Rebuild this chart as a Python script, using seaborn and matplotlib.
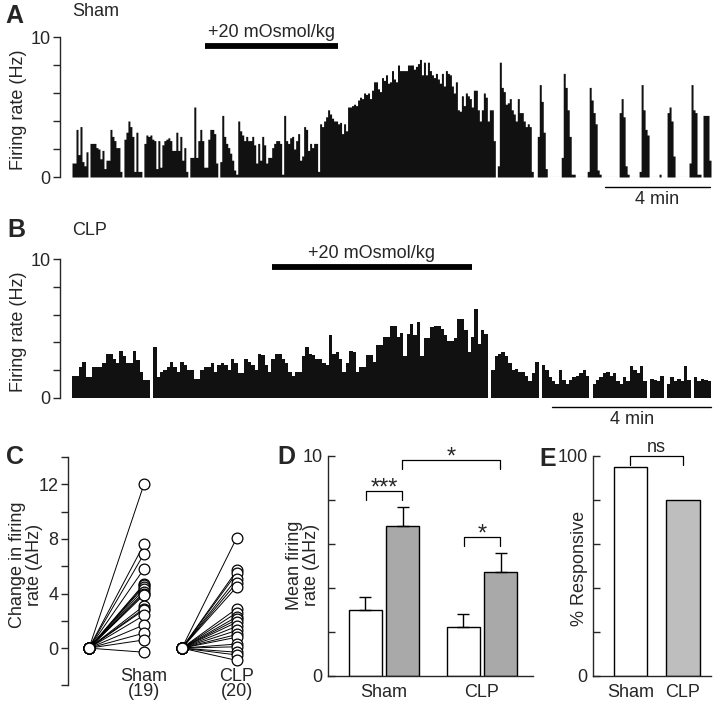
import numpy as np
import pandas as pd
import seaborn as sns
import matplotlib.pyplot as plt

sns.set_style('ticks')
plt.rcParams['font.family'] = ['Liberation Sans', 'DejaVu Sans']
plt.rcParams['font.size'] = 13

# ---- data ----
# A: Sham neuron, firing rate per bin (Hz)
sham_rate = [
    1.0, 1.0, 3.4, 1.6, 3.6, 1.1, 0.8, 1.8, 0,
    2.4, 2.4, 2.4, 2.1, 2.0, 1.3, 1.9, 0.6, 1.2, 1.2, 3.4, 2.9, 2.6, 2.1, 2.1, 0.4, 0,
    2.7, 3.2, 4.0, 3.6, 2.9, 0.4, 3.2, 0.4, 0.4, 0,
    2.4, 3.0, 2.9, 3.0, 2.7, 2.6, 0.6, 2.6, 0.7,
    2.3, 2.6, 2.7, 2.8, 2.6, 1.9, 1.9, 3.2, 1.9, 2.9, 1.2, 2.1, 0.4, 0,
    1.4, 1.4, 5.0, 1.4, 2.6, 3.4, 2.6, 0.7, 0.7, 2.7, 3.4, 3.4, 3.1, 1.0, 0,
    1.1, 4.4, 2.9, 2.4, 2.1, 1.7, 1.2, 0.5, 0.2,
    4.0, 3.3, 3.0, 2.6, 2.9, 2.6, 2.6, 2.9, 2.3, 1.0, 2.4, 1.2, 2.9, 2.3, 1.0, 1.4,
    1.4, 2.1, 2.4, 2.6, 2.6, 2.4, 0.2,
    4.4, 2.6, 2.4, 2.8, 2.9, 2.0, 2.6, 3.1, 1.2, 1.5, 3.6, 3.4, 1.9, 2.4, 2.1, 2.4, 2.4, 0.4,
    3.8, 3.6, 4.0, 4.3, 4.8, 4.5, 4.2, 4.0, 4.0, 3.8,
    3.9, 3.1, 3.8, 3.3, 5.0, 5.0, 5.1, 5.2, 5.1, 5.5,
    5.7, 5.6, 6.0, 5.9, 6.0, 5.6, 6.2, 6.8, 6.8, 6.3,
    6.1, 7.1, 6.9, 7.3, 6.7, 6.8, 7.6, 7.0, 6.8, 8.0,
    7.6, 7.6, 7.6, 7.6, 8.0, 8.0, 8.0, 7.7, 7.9, 8.1,
    8.4, 7.3, 8.2, 7.3, 8.2, 7.6, 7.3, 7.1, 7.4, 7.0,
    6.7, 7.4, 6.5, 7.6, 7.4, 7.3, 6.5, 6.0, 6.8, 4.8,
    4.7, 5.8, 5.1, 6.0, 5.8, 5.6, 5.0, 6.2, 6.2, 4.8,
    4.0, 4.8, 6.0, 5.7, 4.0, 4.8, 4.8, 2.6,
    0, 0.8, 8.2, 6.4, 6.1, 5.2, 5.3, 5.6, 4.8, 4.5, 4.0, 5.6, 4.6, 4.6, 4.0, 3.6, 3.8, 3.6, 0.4,
    0, 0, 2.9, 6.6, 5.4, 3.2, 0.6,
    0, 0, 0, 0, 0, 0, 0,
    1.4, 7.4, 6.4, 4.8, 2.9, 0.2, 0.2,
    0, 0, 0, 0, 0, 0,
    0.4, 6.4, 5.5, 4.6, 3.8, 0.5, 0.2,
    0, 0, 0, 0, 0, 0, 0, 0, 0,
    4.6, 5.6, 4.3, 0.8, 0.2,
    0, 0, 0, 0, 0,
    0.4, 6.6, 4.8, 3.4, 3.0,
    0, 0, 0, 0, 0,
    0.2, 0, 0, 0,
    4.6, 5.0, 4.0, 1.5,
    0, 0, 0, 0, 0, 0, 0,
    1.0, 6.6, 4.8, 4.6, 0.2, 0.2, 0,
    4.4, 4.4, 4.4, 1.2,
]

# B: CLP neuron, firing rate per bin (Hz)
clp_rate = [
    1.6, 1.6, 2.2, 2.6, 1.5, 1.5, 2.2, 2.2, 2.2, 2.5,
    3.2, 3.2, 2.8, 2.5, 3.4, 3.0, 2.5, 2.5, 3.4, 2.7,
    1.9, 1.3, 1.3, 0, 3.7, 1.5, 1.9, 2.0, 2.2, 2.6,
    2.2, 1.9, 2.6, 2.4, 2.0, 2.0, 1.4, 1.4, 2.0, 2.2,
    2.2, 2.5, 1.9, 2.4, 2.5, 2.4, 2.0, 2.8, 2.5, 1.8,
    1.8, 2.8, 2.6, 2.4, 2.0, 3.2, 3.1, 2.4, 1.9, 2.8,
    3.2, 3.2, 2.8, 2.5, 1.9, 1.6, 1.9, 1.9, 3.0, 3.7,
    3.2, 3.1, 2.8, 2.8, 2.5, 2.4, 4.5, 3.2, 3.3, 2.8,
    1.9, 2.5, 3.4, 3.3,
    1.9, 2.2, 2.2, 3.1, 3.1, 2.6, 3.8, 3.8, 4.4, 4.4,
    5.2, 5.2, 4.4, 4.7, 3.0, 4.6, 5.3, 4.5, 5.5, 3.0,
    4.3, 4.3, 5.1, 5.2, 5.2, 5.0, 4.5, 4.1, 4.1, 4.3,
    5.7, 5.7, 4.9, 3.3, 4.4, 6.4, 3.9, 4.9, 4.6, 0,
    2.0, 3.0, 3.2, 3.3, 3.0, 2.5, 2.0, 2.1, 1.9, 1.9,
    1.6, 1.2, 1.8, 2.6, 0, 2.4, 2.0, 1.5, 1.2, 1.0,
    2.0, 1.3, 1.0, 1.3, 1.5, 1.6, 1.8, 2.0, 1.6, 0,
    1.0, 1.3, 1.5, 1.8, 1.9, 1.6, 1.8, 1.2, 1.0, 1.5,
    1.2, 2.3, 2.0, 1.8, 2.3, 1.2, 0, 1.4, 1.3, 1.2,
    1.6, 0, 1.0, 1.5, 1.2, 1.4, 1.2, 2.3, 1.3, 0,
    1.5, 1.2, 1.4, 1.3, 1.2,
]

# C: change in firing rate per neuron (dHz)
sham_change = [12.0, 7.6, 6.9, 5.8, 4.7, 4.6, 4.5, 4.3, 4.1, 4.0,
               3.9, 3.1, 2.9, 2.8, 2.4, 1.7, 1.1, 0.6, -0.3]
clp_change = [8.1, 5.7, 5.5, 5.1, 4.8, 4.5, 2.9, 2.6, 2.3, 2.1,
              1.9, 1.6, 1.3, 1.0, 0.8, 0.3, 0.1, -0.3, -0.5, -0.9]
group_n = ['(19)', '(20)']

# D: mean firing rate
groups = ['Sham', 'CLP']
conds = ['basal', 'hyper']
mean_basal = [3.0, 2.25]
sem_basal = [0.6, 0.55]
mean_hyper = [6.8, 4.75]
sem_hyper = [0.9, 0.85]

# E: % responsive
pct_resp = [95, 80]

W, H = 720, 706
fig = plt.figure(figsize=(W / 100, H / 100), dpi=100)


def rect(x0, y_bottom, w, h):
    return [x0 / W, 1 - y_bottom / H, w / W, h / H]


def ftext(x, y, s, **kw):
    fig.text(x / W, 1 - y / H, s, **kw)


def rate_panel(ax, rates, stim, scale):
    n = len(rates)
    sns.histplot(x=np.arange(n) + 0.5, weights=rates, bins=n, binrange=(0, n),
                 element='step', fill=True, color='#111111', alpha=1, lw=0, ax=ax)
    ax.plot([0, n], [0, 0], color='0.6', lw=0.8, zorder=0)
    ax.set_xlim(-n * 12 / 639, n)
    ax.set_ylim(0, 10)
    sns.despine(ax=ax, bottom=True)
    ax.set_xticks([])
    ax.set_yticks([0, 2, 4, 6, 8, 10], ['0', '', '', '', '', '10'])
    ax.tick_params(axis='y', direction='out', length=5, width=1, pad=2, labelsize=13)
    ax.set_ylabel('')
    # stimulus bar
    x0, x1, yb, tpos = stim
    ax.plot([x0, x1], [yb, yb], color='k', lw=4.2, transform=ax.transAxes,
            clip_on=False, solid_capstyle='butt')
    ax.text(tpos[0], tpos[1], '+20 mOsmol/kg', transform=ax.transAxes,
            ha='center', va='center', fontsize=13)
    # time scale bar
    s0, s1, sy, ty = scale
    ax.plot([s0, s1], [sy, sy], color='k', lw=1, transform=ax.transAxes, clip_on=False)
    ax.text((s0 + s1) / 2, ty, '4 min', transform=ax.transAxes, ha='center',
            va='center', fontsize=13)


axa = fig.add_axes(rect(60, 177, 651, 140))
rate_panel(axa, sham_rate, (0.223, 0.427, 0.936, (0.325, 1.03)),
           (0.837, 0.998, -0.071, -0.164))
axb = fig.add_axes(rect(60, 398, 651, 139))
rate_panel(axb, clp_rate, (0.326, 0.633, 0.942, (0.479, 1.036)),
           (0.756, 1.0, -0.065, -0.158))

# ---- C ----
axc = fig.add_axes(rect(68, 685, 187, 228))
rows = []
for g, vals, x0 in [('Sham', sham_change, 0.0), ('CLP', clp_change, 1.69)]:
    for i, v in enumerate(vals):
        rows.append(dict(cell=f'{g}{i}', x=x0, y=0.0))
        rows.append(dict(cell=f'{g}{i}', x=x0 + 1, y=v))
dfc = pd.DataFrame(rows)
sns.lineplot(data=dfc, x='x', y='y', units='cell', estimator=None, color='k',
             lw=0.7, ax=axc)
sns.scatterplot(data=dfc, x='x', y='y', s=60, facecolor='white', edgecolor='k',
                linewidth=0.9, zorder=3, clip_on=False, ax=axc)
axc.set_xlim(-0.382, 3.02)
axc.set_ylim(-2.7, 14)
sns.despine(ax=axc, bottom=True)
axc.set_xticks([])
axc.set_yticks([-2.7, 0, 2, 4, 6, 8, 10, 12, 14], ['', '0', '', '4', '', '8', '', '12', ''])
axc.tick_params(axis='y', direction='out', length=5, width=1, pad=2, labelsize=13)
axc.set_xlabel('')
axc.set_ylabel('')
for g, n, x in zip(groups, group_n, [1.0, 2.69]):
    axc.text(x, -2.05, g, ha='center', va='center', fontsize=13, clip_on=False)
    axc.text(x, -3.2, n, ha='center', va='center', fontsize=13, clip_on=False)

# ---- D ----
axd = fig.add_axes(rect(328, 676, 205, 220))
dfd = pd.DataFrame({'group': groups * 2,
                    'cond': [conds[0]] * 2 + [conds[1]] * 2,
                    'rate': mean_basal + mean_hyper})
sns.barplot(data=dfd, x='group', y='rate', hue='cond', palette=['white', '#a9a9a9'],
            width=0.76, gap=0.1, edgecolor='k', linewidth=1, errorbar=None,
            legend=False, ax=axd)
for cont, sems in zip(axd.containers, [sem_basal, sem_hyper]):
    for bar, s in zip(cont, sems):
        xc = bar.get_x() + bar.get_width() / 2
        axd.errorbar(xc, bar.get_height(), yerr=[[0], [s]], color='k', lw=1,
                     capsize=4, capthick=1)
axd.set_xlim(-0.571, 1.52)
axd.set_ylim(0, 10)
sns.despine(ax=axd)
axd.set_yticks([0, 2, 4, 6, 8, 10], ['0', '', '', '', '', '10'])
axd.tick_params(axis='y', direction='in', length=5, width=1, pad=4, labelsize=13)
axd.tick_params(axis='x', length=0, pad=6, labelsize=13)
axd.set_xlabel('')
axd.set_ylabel('')


def bracket(ax, x0, x1, y, leg, label, ty, fs=17):
    ax.plot([x0, x0, x1, x1], [y - leg, y, y, y - leg], color='k', lw=0.9, clip_on=False)
    ax.text((x0 + x1) / 2, ty, label, ha='center', va='baseline', fontsize=fs,
            clip_on=False)


bracket(axd, -0.18, 0.18, 8.4, 0.4, '***', 8.25)
bracket(axd, 0.82, 1.18, 6.3, 0.4, '*', 6.15)
axd.plot([0.18, 0.18, 1.18, 1.18], [9.4, 9.8, 9.8, 9.4], color='k', lw=0.9, clip_on=False)
axd.text(0.69, 9.65, '*', ha='center', va='baseline', fontsize=17)

# ---- E ----
axe = fig.add_axes(rect(593, 676, 118, 220))
sns.barplot(x=groups, y=pct_resp, hue=groups, palette=['white', '#bebebe'],
            width=0.63, edgecolor='k', linewidth=1, legend=False, ax=axe)
axe.set_xlim(-0.714, 1.533)
axe.set_ylim(0, 100)
sns.despine(ax=axe)
axe.set_yticks([0, 20, 40, 60, 80, 100], ['0', '', '', '', '', '100'])
axe.tick_params(axis='y', direction='in', length=5, width=1, pad=4, labelsize=13)
axe.tick_params(axis='x', length=0, pad=6, labelsize=13)
axe.set_ylabel('')
bracket(axe, 0, 1, 100, 4, 'ns', 101.8, fs=13)

for ax in [axa, axb, axc, axd, axe]:
    for sp in ax.spines.values():
        sp.set_linewidth(1)

# ---- labels ----
for x, y, s in [(14, 16, 'A'), (16, 230, 'B'), (15, 457, 'C'), (286, 457, 'D'), (548, 459, 'E')]:
    ftext(x, y, s, fontsize=18, fontweight='bold', ha='center', va='center')
ftext(72, 12, 'Sham', ha='left', va='center', fontsize=13)
ftext(72, 231, 'CLP', ha='left', va='center', fontsize=13)
ftext(19, 110, 'Firing rate (Hz)', rotation=90, ha='center', va='center', fontsize=13)
ftext(19, 332, 'Firing rate (Hz)', rotation=90, ha='center', va='center', fontsize=13)
ftext(26, 565, 'Change in firing\nrate (\u0394Hz)', rotation=90, ha='center', va='center',
      fontsize=13, multialignment='center', linespacing=0.95)
ftext(303, 565, 'Mean firing\nrate (\u0394Hz)', rotation=90, ha='center', va='center',
      fontsize=13, multialignment='center', linespacing=0.95)
ftext(580, 568, '% Responsive', rotation=90, ha='center', va='center', fontsize=13)

fig.savefig('out.png', dpi=100)
